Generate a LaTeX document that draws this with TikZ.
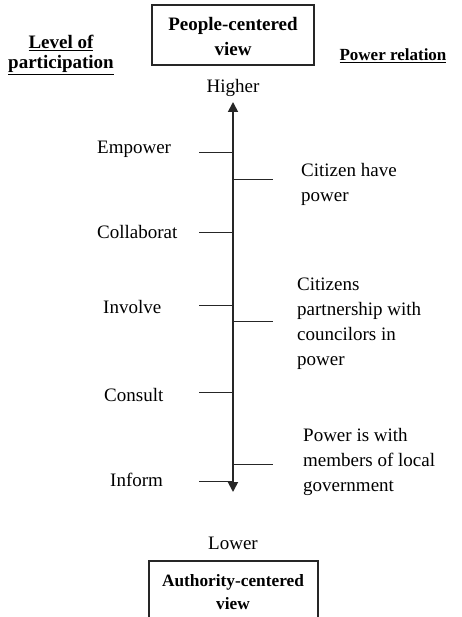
\documentclass[tikz,border=0pt]{standalone}
\usepackage{fontspec}
\setmainfont{Liberation Serif}
\usetikzlibrary{arrows.meta}
\begin{document}
\begin{tikzpicture}[x=1pt,y=-1pt,
  txt/.style={font=\fontsize{19}{25}\selectfont, inner sep=0pt},
  boldtxt/.style={font=\fontsize{19}{25}\selectfont\bfseries, inner sep=0pt, align=center},
  lefttxt/.style={txt, anchor=base west},
  righttxt/.style={txt, anchor=north west, align=left},
  tickline/.style={line width=0.9pt, draw=black!85},
  axisline/.style={line width=1.8pt, draw=black!85, {Triangle[width=10pt,length=10pt]}-{Triangle[width=10pt,length=10pt]}},
  viewbox/.style={draw=black!85, line width=1.3pt}]
\useasboundingbox (0,0) rectangle (462,617);
% top box
\node[viewbox, minimum width=162pt, minimum height=60pt, inner sep=0pt] (topbox) at (233,35) {};
\node[boldtxt] (toptext) at (233,37) {People-centered\\view};
% headings
\node[font=\fontsize{19}{20}\selectfont\bfseries, inner sep=0pt, align=center, anchor=base] (level) at (61,69) {\underline{Level of}\\\underline{participation}};
\node[font=\fontsize{17}{22}\selectfont\bfseries, inner sep=0pt, anchor=base] (powrel) at (393,61) {\underline{Power relation}};
\node[txt, anchor=base] (higher) at (233,93) {Higher};
% axis
\coordinate (atop) at (233,102);
\coordinate (abot) at (233,492);
\draw[axisline] (atop) -- (abot);
% left ticks
\foreach \n/\y in {emp/152, col/232, inv/305, con/392, inf/481}{
  \coordinate (\n L) at (199,\y);
  \coordinate (\n A) at (233,\y);
  \draw[tickline] (\n L) -- (\n A);
}
% right ticks
\foreach \n/\y in {cit/179, par/321, pow/464}{
  \coordinate (\n A) at (233,\y);
  \coordinate (\n R) at (273,\y);
  \draw[tickline] (\n A) -- (\n R);
}
% left labels
\node[lefttxt] (empower) at (97,154) {Empower};
\node[lefttxt] (collab) at (97,238) {Collaborat};
\node[lefttxt] (involve) at (103,313) {Involve};
\node[lefttxt] (consult) at (104,401) {Consult};
\node[lefttxt] (inform) at (110,486) {Inform};
% right labels
\node[righttxt] (citizen) at (301,163) {Citizen have\\power};
\node[righttxt] (partner) at (297,278) {Citizens\\partnership with\\councilors in\\power};
\node[righttxt] (powerwith) at (303,428) {Power is with\\members of local\\government};
% bottom
\node[txt, anchor=base] (lower) at (233,549) {Lower};
\coordinate (b1) at (149,617);
\coordinate (b2) at (149,561);
\coordinate (b3) at (318,561);
\coordinate (b4) at (318,617);
\draw[viewbox] (b1) -- (b2) -- (b3) -- (b4);
\node[font=\fontsize{17.3}{23}\selectfont\bfseries, inner sep=0pt, align=center, anchor=base] (authtext) at (233,609) {Authority-centered\\view};
\end{tikzpicture}
\end{document}
